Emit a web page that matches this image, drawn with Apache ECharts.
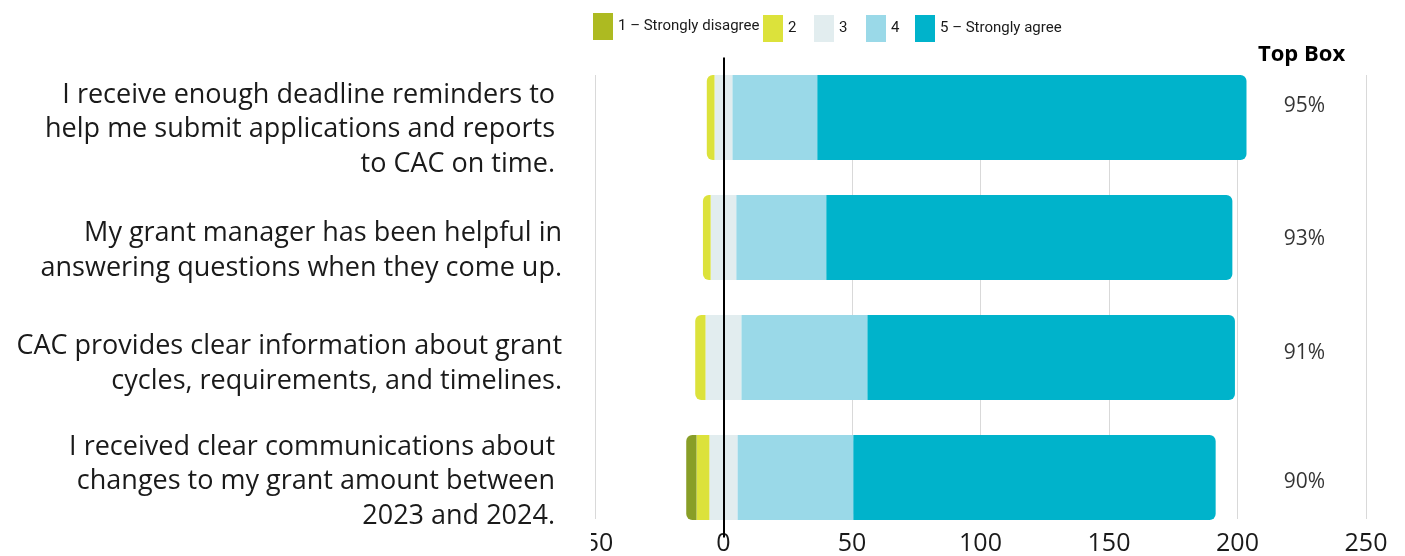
<!DOCTYPE html>
<html>
<head>
<meta charset="utf-8">
<script src="https://cdn.jsdelivr.net/npm/echarts@6/dist/echarts.min.js"></script>
<style>
html,body{margin:0;padding:0;background:#fff;}
#chart{width:1405px;height:556px;}
</style>
</head>
<body>
<div id="chart"></div>
<script>
// ---- data ----
const categories = [
  "I receive enough deadline reminders to\nhelp me submit applications and reports\nto CAC on time.",
  "My grant manager has been helpful in\nanswering questions when they come up.",
  "CAC provides clear information about grant\ncycles, requirements, and timelines.",
  "I received clear communications about\nchanges to my grant amount between\n2023 and 2024."
];
const seriesNames = ["1 – Strongly disagree", "2", "3", "4", "5 – Strongly agree"];
const s1 = [0, 0, 0, 4];
const s2 = [3, 3, 4, 5];
const s3 = [7, 10, 14, 11];
const s4 = [33, 35, 49, 45];
const s5 = [167, 158, 143, 141];
const topBox = [95, 93, 91, 90];
const xMin = -50, xMax = 250, xStep = 50;

// ---- styles ----
const colors = ["#889E27", "#DCE23B", "#E2EDEF", "#9AD9E8", "#00B3CB"];
const legendColor1 = "#ADBA21";
const R = 6;
const textColor = "#1a1a1a";
const valueShift = [-11, 2, -4, 5];
const labelPadTop = [24, 27, 13, 8];
const labelPadRight = [7, 0, 0, 7];
const legendLeft = [593, 763, 814, 866, 915];
const legendTop = [13, 15, 15, 15, 15];
const LH = 34.5;
const labelFont = {fontFamily: 'Open Sans', fontSize: 27, color: textColor};

const chart = echarts.init(document.getElementById('chart'), null, {renderer: 'canvas'});

function items(vals, sign, radiusFn) {
  return vals.map((v, i) => {
    const o = {value: sign * v};
    const r = radiusFn ? radiusFn(i) : null;
    if (r) o.itemStyle = {borderRadius: r};
    return o;
  });
}

const leftRound = [R, 0, 0, R];
const rightRound = [0, R, R, 0];

const barCommon = {type: 'bar', stack: 'total', barWidth: 85, xAxisIndex: 0, yAxisIndex: 0};

const series = [
  Object.assign({}, barCommon, {
    name: seriesNames[2], itemStyle: {color: colors[2]},
    data: items(s3, -0.5, i => (s1[i] === 0 && s2[i] === 0) ? leftRound : null),
    markLine: {
      silent: true, symbol: 'none', z: 10,
      label: {show: false},
      lineStyle: {color: '#000', width: 2, type: 'solid'},
      data: [{xAxis: 0}]
    }
  }),
  Object.assign({}, barCommon, {
    name: seriesNames[1], itemStyle: {color: colors[1]},
    data: items(s2, -1, i => s1[i] === 0 ? leftRound : null)
  }),
  Object.assign({}, barCommon, {
    name: seriesNames[0], itemStyle: {color: colors[0]},
    data: items(s1, -1, i => leftRound)
  }),
  Object.assign({}, barCommon, {
    name: seriesNames[2], itemStyle: {color: colors[2]},
    data: items(s3, 0.5, null)
  }),
  Object.assign({}, barCommon, {
    name: seriesNames[3], itemStyle: {color: colors[3]},
    data: items(s4, 1, null)
  }),
  Object.assign({}, barCommon, {
    name: seriesNames[4], itemStyle: {color: colors[4]},
    data: items(s5, 1, i => rightRound)
  }),
  {
    type: 'scatter', xAxisIndex: 0, yAxisIndex: 0, symbolSize: 0, silent: true,
    data: topBox.map((v, i) => ({
      value: [226, i],
      label: {offset: [0, valueShift[i]]}
    })),
    label: {
      show: true, position: 'inside',
      formatter: p => topBox[p.dataIndex] + '%',
      fontFamily: 'Open Sans', fontSize: 21, color: '#000'
    }
  }
];

const legends = seriesNames.map((n, i) => ({
  left: legendLeft[i], top: legendTop[i],
  padding: 0,
  itemWidth: 20, itemHeight: 27, itemGap: 0,
  icon: 'rect',
  selectedMode: false,
  textStyle: {fontFamily: 'Roboto', fontSize: 15, color: textColor},
  data: [i === 0 ? {name: n, itemStyle: {color: legendColor1}} : n]
}));

// rich styles for the category labels: first line carries the top padding
const rich = {};
categories.forEach((c, i) => {
  rich['f' + i] = Object.assign({}, labelFont, {height: LH, padding: [labelPadTop[i], labelPadRight[i], 0, 0]});
  rich['n' + i] = Object.assign({}, labelFont, {lineHeight: LH, padding: [0, labelPadRight[i], 0, 0]});
});

const option = {
  animation: false,
  backgroundColor: '#fff',
  legend: legends,
  grid: [
    {left: 595, right: 39, top: 57.5, bottom: 18.5, containLabel: false},
    {left: 595, right: 39, top: 75, bottom: 36, containLabel: false}
  ],
  xAxis: [
    {
      type: 'value', gridIndex: 0, min: xMin, max: xMax, interval: xStep,
      axisLine: {show: false}, axisTick: {show: false}, axisLabel: {show: false}, splitLine: {show: false}
    },
    {
      type: 'value', gridIndex: 1, min: xMin, max: xMax, interval: xStep,
      axisLine: {show: false}, axisTick: {show: false},
      axisLabel: {show: true, margin: 12, fontFamily: 'Open Sans', fontSize: 25, color: textColor},
      splitLine: {show: true, lineStyle: {color: '#d9d9d9', width: 1}}
    }
  ],
  yAxis: [
    {
      type: 'category', gridIndex: 0, inverse: true,
      data: categories,
      axisLine: {show: false}, axisTick: {show: false},
      axisLabel: {
        margin: 33, align: 'right',
        fontFamily: 'Open Sans', fontSize: 27, color: textColor,
        formatter: (v, i) => v.split('\n').map((l, j) => '{' + (j === 0 ? 'f' : 'n') + i + '|' + l + '}').join('\n'),
        rich: rich
      },
      splitLine: {show: false}
    },
    {
      type: 'category', gridIndex: 1, data: categories, inverse: true, show: false
    }
  ],
  graphic: [
    {
      type: 'text', left: 1258, top: 44, z: 100,
      style: {text: 'Top Box', fontFamily: 'Open Sans', fontWeight: 'bold', fontSize: 22, fill: '#000'}
    },
    {
      type: 'rect', left: 560, top: 528, z: 100,
      shape: {width: 31, height: 28},
      style: {fill: '#fff'}
    }
  ],
  series: series
};

chart.setOption(option);
</script>
</body>
</html>
